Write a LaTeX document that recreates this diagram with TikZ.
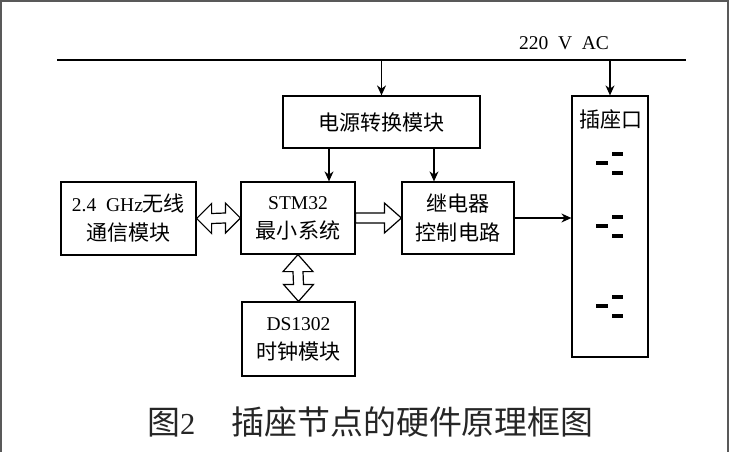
\documentclass[tikz,border=0pt]{standalone}
\usepackage{fontspec}
\setmainfont{Liberation Serif}
\newfontfamily\cjk{Noto Sans CJK SC}[Scale=1.08]
\usetikzlibrary{calc,arrows.meta}
\tikzset{
  box/.style={draw, line width=1.2pt, inner sep=0pt, align=center, font=\fontsize{19.5}{29}\selectfont},
  conn/.style={line width=1.3pt, -{Stealth[length=10pt,width=9pt]}},
  hollow/.style={draw, line width=1.2pt, fill=white, line join=miter},
  plugdash/.style={line width=4pt},
  frameline/.style={draw=black!65, line width=2pt}
}
\begin{document}
\begin{tikzpicture}[x=1pt,y=-1pt]
\useasboundingbox (0,0) rectangle (729,452);
% frame
\draw[frameline] (1,452) -- (1,1) -- (728,1) -- (728,452);
% AC bus
\coordinate (busL) at (57,60);
\coordinate (busR) at (686,60);
\draw[line width=1.3pt] (busL) -- (busR);
\node[font=\fontsize{19.5}{20}\selectfont, anchor=base] (ac) at (564,50) {220\ \ V\ \ AC};
% boxes
\node[box, minimum width=197, minimum height=52] (pw) at (381.5,122) {\cjk 电源转换模块};
\node[box, minimum width=135, minimum height=73] (wl) at (128.5,218.5) {2.4\ \ GHz{\cjk 无线}\\{\cjk 通信模块}};
\node[box, minimum width=114, minimum height=72] (st) at (298,218) {STM32\\{\cjk 最小系统}};
\node[box, minimum width=112, minimum height=72] (rl) at (458,218) {{\cjk 继电器}\\{\cjk 控制电路}};
\node[box, minimum width=113, minimum height=74] (ds) at (298.5,339) {DS1302\\{\cjk 时钟模块}};
\node[box, minimum width=76, minimum height=261] (sk) at (610,226.5) {};
\node[font=\cjk\fontsize{19.5}{20}\selectfont] (sklbl) at (611,119) {插座口};
% bus arrows
\coordinate (tapP) at ($(busL)!(pw.north)!(busR)$);
\draw[conn] (tapP) -- (pw.north);
\coordinate (tapS) at ($(busL)!(sk.north)!(busR)$);
\draw[conn] (tapS) -- (sk.north);
% power to stm and relay
\draw[conn] (pw.south -| 329,0) -- (st.north -| 329,0);
\draw[conn] (pw.south -| 434,0) -- (rl.north -| 434,0);
% relay to socket
\draw[conn] (rl.east) -- (sk.west |- rl.east);
% hollow double arrow wireless <-> stm
\path[hollow] (wl.east) -- ++(15,-15) -- ++(0,10) -- ($(st.west)+(-15,-5)$) -- ++(0,-10) -- (st.west)
  -- ++(-15,15) -- ++(0,-10) -- ($(wl.east)+(15,5)$) -- ++(0,10) -- cycle;
% hollow single arrow stm -> relay
\path[hollow] ($(st.east)+(0,-5)$) -- ($(rl.west)+(-17,-5)$) -- ++(0,-10) -- (rl.west)
  -- ++(-17,15) -- ++(0,-10) -- ($(st.east)+(0,5)$) -- cycle;
% hollow double arrow stm <-> ds
\path[hollow] (st.south) -- ++(15,17) -- ++(-10,0) -- ($(ds.north)+(5,-17)$) -- ++(10,0) -- (ds.north)
  -- ++(-15,-17) -- ++(10,0) -- ($(st.south)+(-5,17)$) -- ++(-10,0) -- cycle;
% socket symbols
\foreach \yy/\nm in {163/a,226/b,306/c}{
  \coordinate (s\nm) at (610,\yy);
  \draw[plugdash] ($(s\nm)+(-14,0)$) -- ($(s\nm)+(-2,0)$);
  \draw[plugdash] ($(s\nm)+(2,-9.5)$) -- ($(s\nm)+(13,-9.5)$);
  \draw[plugdash] ($(s\nm)+(2,9.5)$) -- ($(s\nm)+(13,9.5)$);
}
% caption
\node[font=\fontsize{30.5}{32}\selectfont, text=black!85, anchor=west, inner sep=0pt] (cap) at (147,422) {{\cjk 图}2\hspace{36pt}{\cjk 插座节点的硬件原理框图}};
\end{tikzpicture}
\end{document}
